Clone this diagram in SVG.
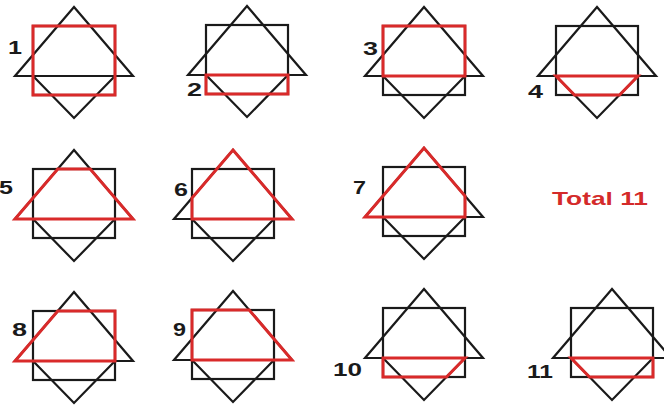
<svg xmlns="http://www.w3.org/2000/svg" xmlns:xlink="http://www.w3.org/1999/xlink" width="664" height="407" viewBox="0 0 664 407">
<style>
.blk{fill:none;stroke:#1a1a1a;stroke-width:2.2;stroke-linejoin:miter}
.red{fill:none;stroke:#d92a2a;stroke-width:3;stroke-linejoin:miter}
.lbl{font-family:"Liberation Sans",Arial,sans-serif;font-weight:bold;font-size:19px;fill:#1a1a1a}
.tot{font-family:"Liberation Sans",Arial,sans-serif;font-weight:bold;font-size:19px;fill:#d42a2a}
</style>
<defs>
<g id="fig">
<rect class="blk" x="0" y="0" width="82" height="69"/>
<polygon class="blk" points="41,-19 -18,50 100,50"/>
<polyline class="blk" points="0,50 41,92 82,50"/>
</g>
</defs>
<rect width="664" height="407" fill="#fff"/>
<g id="p1" transform="translate(33,26)">
<use xlink:href="#fig"/>
<rect class="red" x="0" y="0" width="82" height="69"/>
</g>
<text class="lbl" x="8" y="54" textLength="14" lengthAdjust="spacingAndGlyphs">1</text>
<g id="p2" transform="translate(206,25)">
<use xlink:href="#fig"/>
<rect class="red" x="0" y="50" width="82" height="19"/>
</g>
<text class="lbl" x="187" y="96" textLength="15" lengthAdjust="spacingAndGlyphs">2</text>
<g id="p3" transform="translate(383,26)">
<use xlink:href="#fig"/>
<rect class="red" x="0" y="0" width="82" height="50"/>
</g>
<text class="lbl" x="363" y="55" textLength="15" lengthAdjust="spacingAndGlyphs">3</text>
<g id="p4" transform="translate(556,26)">
<use xlink:href="#fig"/>
<polygon class="red" points="0,50 82,50 63.5,69 18.5,69"/>
</g>
<text class="lbl" x="528" y="98" textLength="15" lengthAdjust="spacingAndGlyphs">4</text>
<g id="p5" transform="translate(33,169)">
<use xlink:href="#fig"/>
<polygon class="red" points="-18,50 24.8,0 57.2,0 100,50"/>
</g>
<text class="lbl" x="-1" y="194" textLength="14" lengthAdjust="spacingAndGlyphs">5</text>
<g id="p6" transform="translate(192,169)">
<use xlink:href="#fig"/>
<polygon class="red" points="41,-19 100,50 0,50 0,29"/>
</g>
<text class="lbl" x="174" y="196" textLength="14" lengthAdjust="spacingAndGlyphs">6</text>
<g id="p7" transform="translate(383,167)">
<use xlink:href="#fig"/>
<polygon class="red" points="41,-19 -18,50 82,50 82,29"/>
</g>
<text class="lbl" x="353" y="194" textLength="13" lengthAdjust="spacingAndGlyphs">7</text>
<g id="p8" transform="translate(33,311)">
<use xlink:href="#fig"/>
<polygon class="red" points="-18,50 24.8,0 82,0 82,50"/>
</g>
<text class="lbl" x="12" y="336" textLength="15" lengthAdjust="spacingAndGlyphs">8</text>
<g id="p9" transform="translate(192,310)">
<use xlink:href="#fig"/>
<polygon class="red" points="0,0 57.2,0 100,50 0,50"/>
</g>
<text class="lbl" x="173" y="336" textLength="13" lengthAdjust="spacingAndGlyphs">9</text>
<g id="p10" transform="translate(383,308)">
<use xlink:href="#fig"/>
<polygon class="red" points="0,50 82,50 63.5,69 0,69"/>
</g>
<text class="lbl" x="333" y="376" textLength="29" lengthAdjust="spacingAndGlyphs">10</text>
<g id="p11" transform="translate(571,308)">
<use xlink:href="#fig"/>
<polygon class="red" points="0,50 82,50 82,69 18.5,69"/>
</g>
<text class="lbl" x="527" y="378" textLength="26" lengthAdjust="spacingAndGlyphs">11</text>
<g id="total">
<text class="tot" x="552" y="205" textLength="96" lengthAdjust="spacingAndGlyphs">Total 11</text>
</g>
<g id="connectors"/>
</svg>
